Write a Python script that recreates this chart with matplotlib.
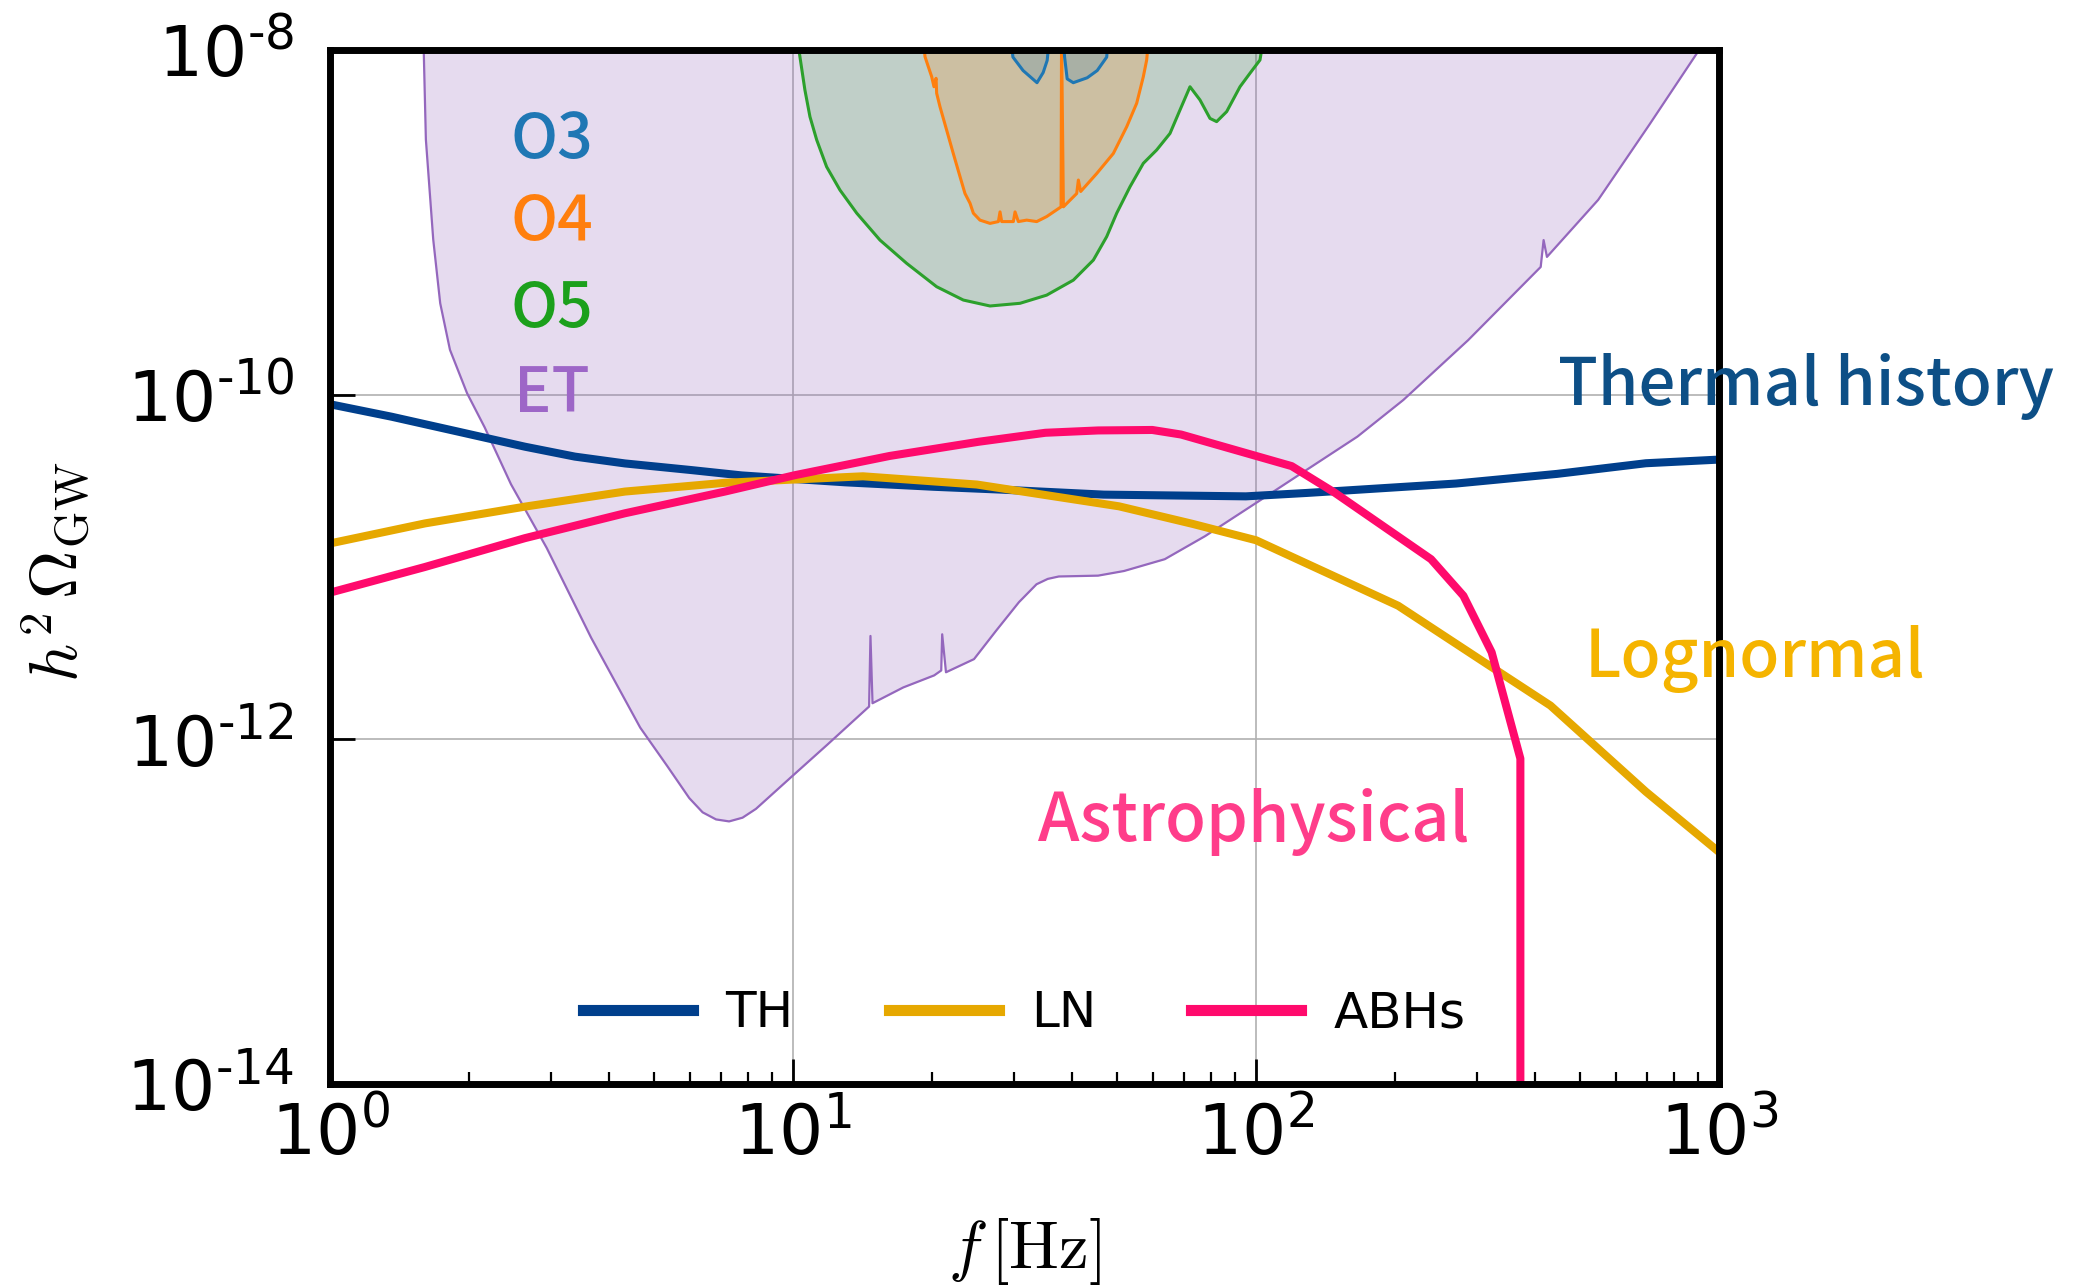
import matplotlib
matplotlib.use("Agg")
import matplotlib.pyplot as plt
from matplotlib.ticker import FixedLocator, FixedFormatter, NullLocator, LogLocator, NullFormatter

plt.rcParams['mathtext.fontset'] = 'cm'
plt.rcParams['font.family'] = ['DejaVu Sans']

# ---------------- data ----------------
# Einstein Telescope sensitivity curve
et_f = [1.59, 1.611, 1.671, 1.730, 1.816, 1.977, 2.158, 2.460, 2.938, 3.664, 4.677,
        5.35, 5.970, 6.38, 6.82, 7.278, 7.78, 8.318, 9.931, 11.86, 14.6, 14.7, 14.85,
        17.30, 20.18, 20.9, 21.0, 21.4, 24.60, 27.48, 30.76, 33.57, 35.5, 37.50,
        45.60, 51.88, 63.53, 77.62, 90.36, 105.2, 128.8, 165.6, 208.0, 287.1, 412.0,
        418.0, 425.0, 548.3, 707.9, 905.7, 950.0]
et_omega = [1.3e-8, 3.02e-9, 7.94e-10, 3.39e-10, 1.82e-10, 1.02e-10, 6.46e-11,
            3.02e-11, 1.29e-11, 3.89e-12, 1.17e-12, 7.0e-13, 4.56e-13, 3.77e-13,
            3.43e-13, 3.34e-13, 3.51e-13, 3.95e-13, 6.07e-13, 9.31e-13, 1.55e-12,
            3.98e-12, 1.62e-12, 2.00e-12, 2.35e-12, 2.51e-12, 4.07e-12, 2.45e-12,
            2.92e-12, 4.28e-12, 6.25e-12, 7.94e-12, 8.53e-12, 8.81e-12, 8.91e-12,
            9.48e-12, 1.11e-11, 1.51e-11, 1.97e-11, 2.57e-11, 3.67e-11, 5.71e-11,
            9.31e-11, 2.07e-10, 5.51e-10, 7.89e-10, 6.30e-10, 1.35e-9, 3.7e-9,
            1.0e-8, 1.3e-8]

# LIGO-Virgo-KAGRA O5
o5_f = [10.2, 10.35, 10.61, 10.88, 11.25, 11.82, 12.63, 13.73, 15.41, 17.60, 20.43,
        23.33, 26.64, 30.93, 35.31, 40.32, 44.54, 47.59, 50.02, 53.45, 57.10, 61.02,
        65.20, 68.53, 72.02, 75.69, 79.54, 82.22, 86.43, 92.35, 97.05, 102.0, 104.0]
o5_omega = [1.2e-8, 9.14e-9, 5.86e-9, 4.10e-9, 3.01e-9, 2.10e-9, 1.54e-9, 1.13e-9,
            7.89e-10, 5.78e-10, 4.23e-10, 3.54e-10, 3.27e-10, 3.39e-10, 3.78e-10,
            4.62e-10, 6.04e-10, 8.26e-10, 1.13e-9, 1.61e-9, 2.20e-9, 2.63e-9,
            3.28e-9, 4.49e-9, 6.12e-9, 5.13e-9, 4.01e-9, 3.84e-9, 4.39e-9, 6.12e-9,
            7.33e-9, 8.75e-9, 1.2e-8]

# O4
o4_f = [19.1, 19.28, 19.60, 19.93, 20.16, 20.37, 20.43, 20.77, 21.47, 22.19, 22.95,
        23.52, 24.12, 24.52, 25.34, 26.64, 27.77, 28.0, 28.23, 29.92, 30.17, 30.67,
        31.97, 33.60, 35.31, 37.93, 38.02, 38.37, 41.0, 41.34, 41.82, 45.29, 49.19,
        52.58, 55.25, 57.10, 58.06, 58.7]
o4_omega = [1.2e-8, 9.14e-9, 8.0e-9, 7.0e-9, 6.12e-9, 6.85e-9, 5.61e-9, 4.69e-9,
            3.43e-9, 2.51e-9, 1.84e-9, 1.47e-9, 1.29e-9, 1.13e-9, 1.03e-9, 9.86e-10,
            1.01e-9, 1.15e-9, 1.01e-9, 1.01e-9, 1.15e-9, 1.01e-9, 1.03e-9, 1.01e-9,
            1.08e-9, 1.23e-9, 1.2e-8, 1.23e-9, 1.47e-9, 1.76e-9, 1.51e-9, 1.92e-9,
            2.51e-9, 3.59e-9, 4.91e-9, 7.0e-9, 8.75e-9, 1.2e-8]

# O3
o3_f = [29.0, 29.85, 31.4, 33.65, 34.7, 35.4, 36.5, 37.76, 38.6, 39.1, 40.3, 43.2,
        45.4, 47.6, 48.5]
o3_omega = [2e-8, 9.1e-9, 7.6e-9, 6.46e-9, 7.4e-9, 8.7e-9, 2e-8, 2e-8, 9.1e-9,
            6.8e-9, 6.46e-9, 6.9e-9, 7.6e-9, 9.1e-9, 2e-8]

# Thermal history (TH)
th_f = [1.0, 1.358, 1.892, 2.636, 3.381, 4.335, 6.039, 7.745, 10.09, 12.97, 20.18,
        28.31, 46.9, 95.1, 128.8, 270.4, 447.0, 695.0, 1000.0]
th_omega = [8.8e-11, 7.45e-11, 6.10e-11, 4.99e-11, 4.37e-11, 3.99e-11, 3.65e-11,
            3.40e-11, 3.24e-11, 3.10e-11, 2.92e-11, 2.81e-11, 2.63e-11, 2.57e-11,
            2.69e-11, 3.05e-11, 3.47e-11, 4.0e-11, 4.2e-11]

# Lognormal (LN)
ln_f = [1.0, 1.603, 2.636, 4.335, 7.129, 10.09, 14.16, 24.95, 50.58, 72.9, 100.0,
        202.8, 311.2, 432.5, 695.0, 1000.0]
ln_omega = [1.37e-11, 1.79e-11, 2.24e-11, 2.74e-11, 3.08e-11, 3.22e-11, 3.36e-11,
            3.01e-11, 2.25e-11, 1.78e-11, 1.43e-11, 5.96e-12, 2.80e-12, 1.57e-12,
            4.97e-13, 2.22e-13]

# Astrophysical black holes (ABHs)
abh_f = [1.0, 1.603, 2.636, 4.335, 7.129, 10.09, 16.18, 25.18, 35.08, 45.6, 59.7,
         68.9, 119.4, 147.9, 238.8, 280.5, 322.8, 372.4, 372.4]
abh_omega = [7.1e-12, 1.0e-11, 1.47e-11, 2.05e-11, 2.74e-11, 3.41e-11, 4.41e-11,
             5.33e-11, 6.01e-11, 6.2e-11, 6.24e-11, 5.87e-11, 3.85e-11, 2.70e-11,
             1.11e-11, 6.81e-12, 3.20e-12, 7.73e-13, 1e-16]

yticks = [1e-14, 1e-12, 1e-10, 1e-8]
ytick_labels = [r'$\mathregular{10^{‐14}}$', r'$\mathregular{10^{‐12}}$',
                r'$\mathregular{10^{‐10}}$', r'$\mathregular{10^{‐8}}$']
xticks = [1, 10, 100, 1000]
xtick_labels = [r'$\mathregular{10^{0}}$', r'$\mathregular{10^{1}}$',
                r'$\mathregular{10^{2}}$', r'$\mathregular{10^{3}}$']

# ---------------- figure ----------------
W, H = 2078, 1288
fig = plt.figure(figsize=(W / 100, H / 100), dpi=100)
ax = fig.add_axes([330 / W, 1 - 1084 / H, 1389 / W, 1034 / H])
ax.set_xscale('log')
ax.set_yscale('log')
ax.set_xlim(1, 1000)
ax.set_ylim(1e-14, 1e-8)

TOP = 1e-6
# ET
ax.fill_between(et_f, et_omega, TOP, color='#9467bd', alpha=0.23, lw=0, zorder=1)
ax.plot(et_f, et_omega, color='#9467bd', lw=1.6, zorder=2)
# O5
ax.fill_between(o5_f, o5_omega, TOP, color='#2ca02c', alpha=0.2, lw=0, zorder=3)
ax.plot(o5_f, o5_omega, color='#2ca02c', lw=2.2, zorder=4)
# O4
ax.fill_between(o4_f, o4_omega, TOP, color='#ff7f0e', alpha=0.2, lw=0, zorder=5)
ax.plot(o4_f, o4_omega, color='#ff7f0e', lw=2.2, zorder=6)
# O3
ax.fill_between(o3_f, o3_omega, TOP, color='#1f77b4', alpha=0.2, lw=0, zorder=7)
ax.plot(o3_f, o3_omega, color='#1f77b4', lw=2.2, zorder=8)

ax.plot(th_f, th_omega, color='#003f8c', lw=5.8, label='TH', zorder=10)
ax.plot(ln_f, ln_omega, color='#e6a800', lw=5.8, label='LN', zorder=11)
ax.plot(abh_f, abh_omega, color='#ff0a6c', lw=5.8, label='ABHs', zorder=12)

# ticks
ax.xaxis.set_major_locator(FixedLocator(xticks))
ax.xaxis.set_major_formatter(FixedFormatter(xtick_labels))
ax.xaxis.set_minor_locator(LogLocator(base=10, subs=range(2, 10)))
ax.xaxis.set_minor_formatter(NullFormatter())
ax.yaxis.set_major_locator(FixedLocator(yticks))
ax.yaxis.set_major_formatter(FixedFormatter(ytick_labels))
ax.yaxis.set_minor_locator(NullLocator())

ax.tick_params(axis='both', which='major', direction='in', length=18, width=2,
               labelsize=50, top=False, right=False)
ax.tick_params(axis='both', which='minor', direction='in', length=9, width=1.6,
               top=False, right=False)
ax.tick_params(axis='y', which='major', pad=26)
ax.tick_params(axis='x', which='major', pad=12)

for s in ax.spines.values():
    s.set_linewidth(5)
    s.set_zorder(20)

ax.grid(True, which='major', color='#b0b0b0', lw=1.2, zorder=0)
ax.set_axisbelow(True)

ax.set_xlabel(r'$f\,[\mathrm{Hz}]$', fontsize=48)
ax.xaxis.set_label_coords(0.5, (1084 - 1216) / 1034)
ax.set_ylabel(r'$h^2\,\Omega_{\rm GW}$', fontsize=48)
ax.yaxis.set_label_coords((93 - 330) / 1389, (1084 - 572) / 1034)

leg = ax.legend(loc='center', bbox_to_anchor=(0.5, (1084 - 1013) / 1034), ncol=3,
                frameon=False, fontsize=36, handlelength=2.2, handletextpad=0.65,
                columnspacing=1.9)
for line in leg.get_lines():
    line.set_linewidth(8)

# annotations
tfont = ['Noto Sans CJK JP', 'DejaVu Sans']
def ftext(x, y, s, color, size):
    fig.text(x / W, 1 - y / H, s, color=color, fontsize=size, family=tfont,
             fontweight='medium', ha='left', va='baseline')

ftext(510, 158, 'O3', '#1f77b4', 45)
ftext(510, 240, 'O4', '#ff7f0e', 45)
ftext(510, 327, 'O5', '#1ca01c', 45)
ftext(514, 412, 'ET', '#9d66c7', 45)
ftext(1558, 405, 'Thermal history', '#0d4f86', 47)
ftext(1585, 677, 'Lognormal', '#f5b400', 47)
ftext(1038, 841, 'Astrophysical', '#ff3d8a', 48)

fig.savefig('out.png', dpi=100)
